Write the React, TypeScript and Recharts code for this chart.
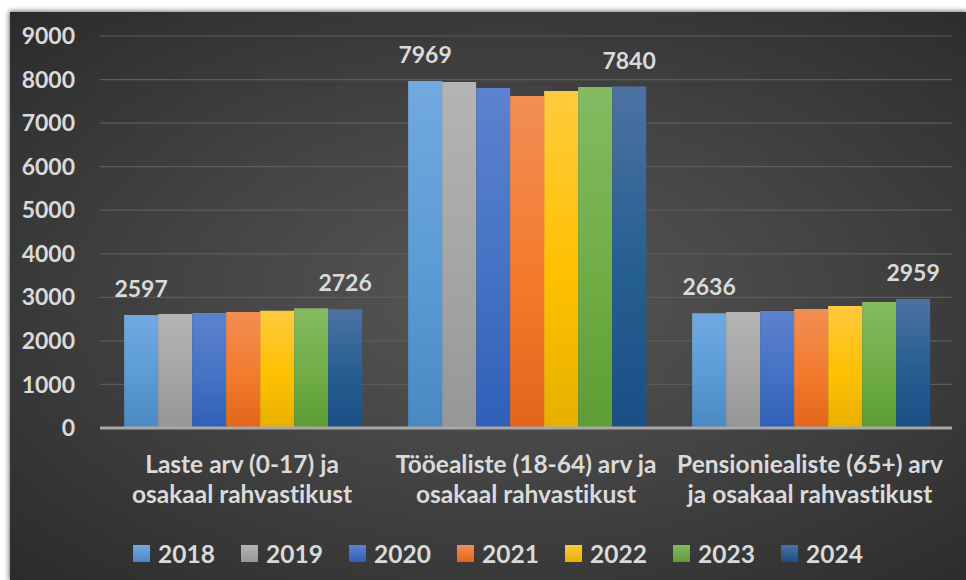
import { Bar, BarChart, CartesianGrid, LabelList, XAxis, YAxis } from 'recharts';

const categories = [
    'Laste arv (0-17) ja\nosakaal rahvastikust',
    'Tööealiste (18-64) arv ja\nosakaal rahvastikust',
    'Pensioniealiste (65+) arv\nja osakaal rahvastikust',
];
const years = ['2018', '2019', '2020', '2021', '2022', '2023', '2024'];

const v2018 = [2597, 7969, 2636];
const v2019 = [2615, 7943, 2663];
const v2020 = [2640, 7805, 2686];
const v2021 = [2665, 7622, 2732];
const v2022 = [2690, 7737, 2801];
const v2023 = [2750, 7828, 2893];
const v2024 = [2726, 7840, 2959];

const yTicks = [0, 1000, 2000, 3000, 4000, 5000, 6000, 7000, 8000, 9000];

const seriesValues = [v2018, v2019, v2020, v2021, v2022, v2023, v2024];

const data = categories.map((name, i) => {
    const row: Record<string, string | number> = { name };
    years.forEach((y, s) => {
        row[y] = seriesValues[s][i];
    });
    return row;
});

// gradient stops per year: top, middle, bottom
const GRADIENTS = [
    ['#72a9e0', '#5b9bd5', '#4a88c4'],
    ['#b4b4b4', '#a5a5a5', '#969696'],
    ['#5d82cf', '#4472c4', '#305fb8'],
    ['#f28e55', '#f47a2c', '#e0661a'],
    ['#ffca3e', '#ffc000', '#e6b000'],
    ['#84ba62', '#70ad47', '#5e9c35'],
    ['#4d72a2', '#255e91', '#1a4f86'],
];

const FONT = 'Lato, "Open Sans", sans-serif';
const TEXT = '#dadada';

function CategoryTick({ x, y, payload }: { x?: number; y?: number; payload?: { value: string } }) {
    const lines = String(payload?.value ?? '').split('\n');
    return (
        <text
            x={x}
            y={y}
            textAnchor="middle"
            fill={TEXT}
            fontFamily={FONT}
            fontWeight={700}
            fontSize={24.5}
            style={{ fontVariantLigatures: 'none' }}
        >
            {lines.map((line, i) => (
                <tspan key={i} x={x} dy={i === 0 ? 45 : 30}>
                    {line}
                </tspan>
            ))}
        </text>
    );
}

export default function App() {
    return (
        <div>
            <style>{'body{margin:0;overflow:hidden;background:#fff}'}</style>
            <div
                style={{
                    position: 'absolute',
                    left: 10,
                    top: 12,
                    width: 956,
                    height: 568,
                    background: 'radial-gradient(ellipse at 52% 50%, #575757 0%, #444444 45%, #2b2b2b 100%)',
                    boxShadow: '0 0 5px 1px rgba(0,0,0,0.55)',
                }}
            >
                <BarChart
                    width={956}
                    height={568}
                    data={data}
                    margin={{ top: 24, right: 14, left: 0, bottom: 0 }}
                    barCategoryGap="8.5%"
                    barGap={0}
                >
                    <defs>
                        {GRADIENTS.map((g, i) => (
                            <linearGradient key={i} id={`grad${i}`} x1="0" y1="0" x2="0" y2="1">
                                <stop offset="0%" stopColor={g[0]} />
                                <stop offset="55%" stopColor={g[1]} />
                                <stop offset="100%" stopColor={g[2]} />
                            </linearGradient>
                        ))}
                    </defs>
                    <CartesianGrid vertical={false} stroke="#5c5c5c" strokeWidth={1.2} />
                    <XAxis
                        dataKey="name"
                        height={152}
                        interval={0}
                        tick={<CategoryTick />}
                        tickLine={false}
                        tickSize={0}
                        tickMargin={0}
                        axisLine={{ stroke: '#a8a8a8', strokeWidth: 3 }}
                    />
                    <YAxis
                        width={90}
                        domain={[0, 9000]}
                        ticks={yTicks}
                        interval={0}
                        tickLine={false}
                        axisLine={false}
                        tickSize={0}
                        tickMargin={25}
                        tick={{ fill: TEXT, fontFamily: FONT, fontWeight: 700, fontSize: 23 }}
                    />
                    {years.map((y, i) => (
                        <Bar key={y} dataKey={y} fill={`url(#grad${i})`} isAnimationActive={false}>
                            {(i === 0 || i === years.length - 1) && (
                                <LabelList
                                    dataKey={y}
                                    position="top"
                                    offset={18}
                                    fill={TEXT}
                                    fontFamily={FONT}
                                    fontWeight={700}
                                    fontSize={23}
                                />
                            )}
                        </Bar>
                    ))}
                </BarChart>
                <div
                    style={{
                        position: 'absolute',
                        left: 123,
                        top: 527,
                        display: 'flex',
                        alignItems: 'center',
                        fontFamily: FONT,
                        fontWeight: 700,
                        fontSize: 24.5,
                        color: TEXT,
                    }}
                >
                    {years.map((y, i) => (
                        <div key={y} style={{ width: 108, display: 'flex', alignItems: 'center' }}>
                            <div
                                style={{
                                    width: 17,
                                    height: 17,
                                    marginRight: 8,
                                    background: `linear-gradient(${GRADIENTS[i][0]}, ${GRADIENTS[i][2]})`,
                                }}
                            />
                            <span>{y}</span>
                        </div>
                    ))}
                </div>
            </div>
        </div>
    );
}
